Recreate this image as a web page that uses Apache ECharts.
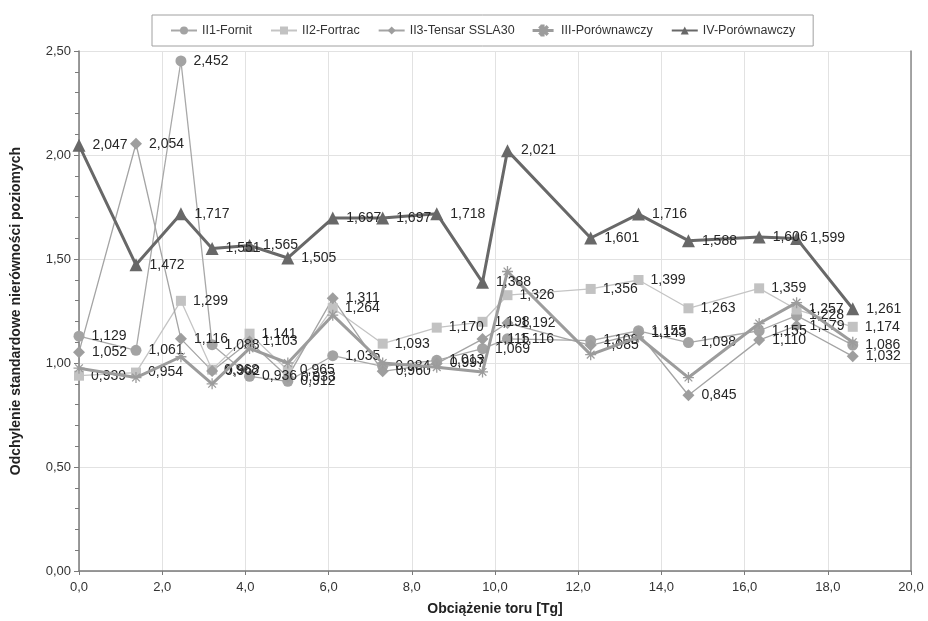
<!DOCTYPE html>
<html>
<head>
<meta charset="utf-8">
<script src="https://cdn.jsdelivr.net/npm/echarts@6/dist/echarts.min.js"></script>
<style>html,body{margin:0;padding:0;background:#fff}#c{width:928px;height:621px}</style>
</head>
<body>
<div id="c"></div>
<script>
const xLoad = [0, 1.37, 2.45, 3.2, 4.1, 5.02, 6.1, 7.3, 8.6, 9.7, 10.3, 12.3, 13.45, 14.65, 16.35, 17.25, 18.6];
const seriesNames = ['II1-Fornit', 'II2-Fortrac', 'II3-Tensar SSLA30', 'III-Porównawczy', 'IV-Porównawczy'];
const fornit   = [1.129, 1.061, 2.452, 1.088, 0.936, 0.912, 1.035, 0.984, 1.013, 1.069, 1.116, 1.108, 1.155, 1.098, 1.155, 1.228, 1.086];
const fortrac  = [0.939, 0.954, 1.299, 0.968, 1.141, 0.965, 1.264, 1.093, 1.170, 1.198, 1.326, 1.356, 1.399, 1.263, 1.359, 1.257, 1.174];
const tensar   = [1.052, 2.054, 1.116, 0.962, 1.103, 0.933, 1.311, 0.960, 0.997, 1.115, 1.192, 1.085, 1.143, 0.845, 1.110, 1.179, 1.032];
const porIII   = [0.975, 0.930, 1.030, 0.900, 1.070, 1.000, 1.230, 1.000, 0.980, 0.957, 1.440, 1.040, 1.125, 0.930, 1.190, 1.290, 1.100];
const porIV    = [2.047, 1.472, 1.717, 1.551, 1.565, 1.505, 1.697, 1.697, 1.718, 1.388, 2.021, 1.601, 1.716, 1.588, 1.606, 1.599, 1.261];
const yTicks = {min: 0, max: 2.5, interval: 0.5};
const xTicks = {min: 0, max: 20, interval: 2};

const FONT = 'Liberation Sans, Arial, sans-serif';
const pairs = arr => arr.map((v, i) => [xLoad[i], v]);
const fmtLabel = p => p.value[1].toFixed(3).replace('.', ',');
const lbl = {show: true, position: 'right', distance: 7, formatter: fmtLabel, fontFamily: FONT, fontSize: 14, color: '#262626'};
const star = 'path://M0,5L10,5M5,0L5,10M1.5,1.5L8.5,8.5M8.5,1.5L1.5,8.5';
const legendStar = 'path://M0,4.6L9,4.6L9,5.4L0,5.4ZM8,0L10,0L10,10L8,10ZM10,4.6L19,4.6L19,5.4L10,5.4ZM6,2L7,1L14,8L13,9ZM13,1L14,2L7,9L6,8Z';

const chart = echarts.init(document.getElementById('c'), null, {renderer: 'canvas'});
chart.setOption({
  animation: false,
  backgroundColor: '#fff',
  textStyle: {fontFamily: FONT},
  grid: {left: 79, right: 17, top: 51, bottom: 50, containLabel: false},
  legend: {
    left: 152, top: 15, padding: [9, 18], itemGap: 18, itemWidth: 26, itemHeight: 10,
    borderColor: '#a0a0a0', borderWidth: 1,
    textStyle: {fontFamily: FONT, fontSize: 12.5, color: '#333'},
    data: [seriesNames[0], seriesNames[1], seriesNames[2],
           {name: seriesNames[3], icon: legendStar, itemStyle: {color: '#9c9c9c'}}, seriesNames[4]]
  },
  xAxis: {
    type: 'value', min: xTicks.min, max: xTicks.max, interval: xTicks.interval,
    name: 'Obciążenie toru [Tg]', nameLocation: 'middle', nameGap: 31,
    nameTextStyle: {fontFamily: FONT, fontSize: 14, fontWeight: 'bold', color: '#222'},
    axisLine: {show: true, onZero: false, lineStyle: {color: '#7a7a7a', width: 1.5}},
    axisTick: {show: true, length: 4, lineStyle: {color: '#7a7a7a'}},
    axisLabel: {fontFamily: FONT, fontSize: 13, color: '#333', margin: 10, formatter: v => v.toFixed(1).replace('.', ',')},
    splitLine: {show: true, lineStyle: {color: '#e2e2e2', width: 1}}
  },
  yAxis: [{
    type: 'value', min: yTicks.min, max: yTicks.max, interval: yTicks.interval,
    name: 'Odchylenie standardowe nierówności poziomych', nameLocation: 'middle', nameGap: 56,
    nameTextStyle: {fontFamily: FONT, fontSize: 14, fontWeight: 'bold', color: '#222'},
    axisLine: {show: true, lineStyle: {color: '#7a7a7a', width: 1.5}},
    axisTick: {show: true, length: 5, lineStyle: {color: '#7a7a7a'}},
    minorTick: {show: true, splitNumber: 5, length: 4, lineStyle: {color: '#7a7a7a'}},
    axisLabel: {fontFamily: FONT, fontSize: 13, color: '#333', margin: 8, formatter: v => v.toFixed(2).replace('.', ',')},
    splitLine: {show: true, lineStyle: {color: '#e2e2e2', width: 1}}
  }, {
    type: 'value', min: yTicks.min, max: yTicks.max, position: 'right',
    axisLine: {show: true, lineStyle: {color: '#8a8a8a', width: 1.5}},
    axisTick: {show: false}, axisLabel: {show: false}, splitLine: {show: false}
  }],
  series: [
    {name: seriesNames[0], type: 'line', data: pairs(fornit), symbol: 'circle', symbolSize: 11,
     lineStyle: {color: '#a8a8a8', width: 1.3}, itemStyle: {color: '#a3a3a3'}, label: lbl, z: 3},
    {name: seriesNames[1], type: 'line', data: pairs(fortrac), symbol: 'rect', symbolSize: 10,
     lineStyle: {color: '#c4c4c4', width: 1.3}, itemStyle: {color: '#c2c2c2'}, label: lbl, z: 3},
    {name: seriesNames[2], type: 'line', data: pairs(tensar), symbol: 'diamond', symbolSize: 12,
     lineStyle: {color: '#a4a4a4', width: 1.3}, itemStyle: {color: '#9e9e9e'}, label: lbl, z: 3},
    {name: seriesNames[3], type: 'line', data: pairs(porIII), symbol: star, symbolSize: 11,
     lineStyle: {color: '#9c9c9c', width: 3}, itemStyle: {color: '#9c9c9c', borderColor: '#9c9c9c', borderWidth: 1.3}, label: {show: false}, z: 4},
    {name: seriesNames[4], type: 'line', data: pairs(porIV), symbol: 'triangle', symbolSize: 13,
     lineStyle: {color: '#686868', width: 3}, itemStyle: {color: '#686868'}, label: lbl, z: 5}
  ]
});
</script>
</body>
</html>
